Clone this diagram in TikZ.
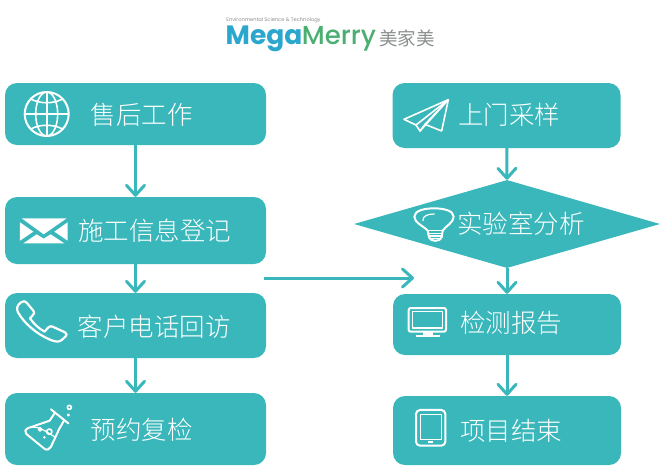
\documentclass[tikz,border=0pt]{standalone}
\usepackage{fontspec}
\setmainfont{Poppins}
\newfontfamily\cjk{Noto Sans CJK SC}[UprightFont=* Light]
\newfontfamily\cjkreg{Noto Sans CJK SC}
\newfontfamily\logomed{Poppins}[UprightFont=* Medium]
\usetikzlibrary{arrows.meta,shapes.geometric}
\definecolor{teal1}{HTML}{39B7BA}
\definecolor{logoblue}{HTML}{2BA7CE}
\definecolor{logogreen}{HTML}{4CAF72}
\definecolor{logogray}{HTML}{8A8F8F}
\tikzset{
  flowbox/.style={fill=teal1,rounded corners=12pt,minimum width=#1,inner sep=0pt,anchor=center},
  label cn/.style={text=white,inner sep=0pt,font=\cjk\fontsize{25.5}{30}\selectfont},
  flowarrow/.style={draw=teal1,line width=3pt,-{Straight Barb[length=10pt,width=18pt,line width=3pt,round]}},
  iconline/.style={draw=white,line width=1.6pt,line join=round,line cap=round},
  iconfill/.style={fill=white},
}
\begin{document}
\begin{tikzpicture}[x=1pt,y=-1pt]
\useasboundingbox (0,0) rectangle (660,466);
% logo
\node[inner sep=0pt,text=logogray,font=\fontsize{5.1}{7}\selectfont] (tag) at (273.5,20) {Environmental Science \& Technology};
\node[inner sep=0pt,text=logoblue,font=\bfseries\fontsize{26.5}{30}\selectfont] (mega) at (264,39) {Mega};
\node[inner sep=0pt,text=logogreen,font=\logomed\fontsize{26}{30}\selectfont] (merry) at (339,39) {Merry};
\node[inner sep=0pt,text=logogray,font=\cjkreg\fontsize{18.5}{22}\selectfont] (brand) at (407,38) {美家美};
% boxes
\node[flowbox=261pt,minimum height=62pt] (a) at (135.5,114) {};
\node[flowbox=261pt,minimum height=67pt] (b) at (135.5,230.5) {};
\node[flowbox=261pt,minimum height=65pt] (c) at (135.5,325.5) {};
\node[flowbox=261pt,minimum height=72pt] (d) at (135.5,429) {};
\node[flowbox=228pt,minimum height=65pt] (e) at (506.5,115.5) {};
\node[diamond,fill=teal1,inner sep=0pt,minimum width=306pt,minimum height=88pt] (lab) at (507,224) {};
\node[flowbox=228pt,minimum height=61pt] (f) at (507,324.5) {};
\node[flowbox=228pt,minimum height=69pt] (g) at (507,430.5) {};
% texts
\node[label cn] (ta) at (141.5,115) {售后工作};
\node[label cn] (tb) at (154.5,231) {施工信息登记};
\node[label cn] (tc) at (154,327) {客户电话回访};
\node[label cn] (td) at (141.5,430) {预约复检};
\node[label cn] (te) at (509,115) {上门采样};
\node[label cn] (tl) at (521,224) {实验室分析};
\node[label cn] (tf) at (511,323) {检测报告};
\node[label cn] (tg) at (511,431) {项目结束};
% connectors
\coordinate (hs) at (264,278);
\coordinate (he) at (414,278);
\draw[flowarrow] (a) -- (b);
\draw[flowarrow] (b) -- (c);
\draw[flowarrow] (c) -- (d);
\draw[flowarrow] (e) -- (lab.north);
\draw[flowarrow] (lab.south) -- (f);
\draw[flowarrow] (f) -- (g);
\draw[flowarrow] (hs) -- (he);
% globe
\begin{scope}[shift={(46.7,114)}]
  \draw[iconline,line width=2pt] (0,0) circle (22);
  \draw[iconline] (0,-22) -- (0,22) (-22,0) -- (22,0);
  \draw[iconline] (0,0) ellipse (11 and 22);
  \draw[iconline] (-16,-15) .. controls (-6,-10) and (6,-10) .. (16,-15);
  \draw[iconline] (-16,15) .. controls (-6,10) and (6,10) .. (16,15);
\end{scope}
% envelope
\begin{scope}[shift={(0,75)},x=0.3333pt,y=-0.3333pt]
  \fill[iconfill] (65,430) -- (200,430) -- (131,478) -- cycle;
  \fill[iconfill] (60,442) -- (100,470) -- (60,497) -- cycle;
  \fill[iconfill] (203,442) -- (163,470) -- (203,497) -- cycle;
  \fill[iconfill] (70,505) -- (110,478) -- (131,491) -- (152,478) -- (193,505) -- cycle;
\end{scope}
% phone
\begin{scope}[shift={(10,295)},x=0.3333pt,y=-0.3333pt]
  \draw[iconline,line width=2.2pt] (33,22) .. controls (40,17) and (46,18) .. (50,23)
    -- (70,47) .. controls (74,52) and (73,57) .. (68,61) -- (60,70)
    .. controls (70,85) and (85,100) .. (104,110) -- (114,98)
    .. controls (118,93) and (124,93) .. (128,95) -- (165,112)
    .. controls (171,116) and (171,120) .. (167,124) -- (154,136)
    .. controls (146,142) and (134,140) .. (120,134)
    .. controls (78,116) and (42,84) .. (24,52)
    .. controls (18,40) and (22,30) .. (33,22) -- cycle;
\end{scope}
% flask
\begin{scope}[shift={(15,400)},x=0.3333pt,y=-0.3333pt]
  \draw[iconline,line width=2pt] (108,28) -- (160,70);
  \draw[iconline,line width=2pt] (120,38) -- (104,62) -- (40,84) .. controls (30,88) and (28,96) .. (34,102)
     -- (88,146) .. controls (96,152) and (104,148) .. (108,140) -- (132,88) -- (148,60);
  \draw[iconline,line width=1.2pt] (50,82) .. controls (75,78) and (100,100) .. (122,112);
  \draw[iconline] (163,22) circle (6);
  \draw[iconline] (160,45) circle (2.5);
  \draw[iconline] (75,88) circle (5);
  \draw[iconline] (103,95) circle (8);
  \fill[iconfill] (88,112) circle (4);
\end{scope}
% plane
\begin{scope}[shift={(400,95)},x=0.3333pt,y=-0.3333pt]
  \draw[iconline] (12,73) -- (145,14) -- (125,108) -- (75,88) -- (60,108) -- (48,90) -- cycle;
  \draw[iconline] (145,14) -- (48,90);
  \draw[iconline] (145,14) -- (60,108);
  \draw[iconline] (145,14) -- (75,88);
\end{scope}
% bulb
\begin{scope}[shift={(405,200)},x=0.3333pt,y=-0.3333pt]
  \draw[iconline,line width=2pt] (68,92) .. controls (55,78) and (28,68) .. (28,50)
    .. controls (28,32) and (58,25) .. (87,25)
    .. controls (116,25) and (146,32) .. (146,50)
    .. controls (146,68) and (122,78) .. (113,92)
    -- (110,112) .. controls (106,126) and (76,126) .. (72,112) -- cycle;
  \draw[iconline,line width=1.2pt] (54,62) .. controls (52,48) and (68,42) .. (88,42);
  \draw[iconline,line width=1.2pt] (68,92) -- (113,92) (70,100) -- (111,100) (72,108) -- (109,108) (76,116) -- (105,116);
\end{scope}
% monitor
\begin{scope}[shift={(380,270)},x=0.3333pt,y=-0.3333pt]
  \draw[iconline,line width=2pt,rounded corners=2pt] (86,114) rectangle (198,185);
  \draw[iconline,line width=1.2pt] (98,125) rectangle (187,174);
  \fill[iconfill] (128,185) rectangle (160,194);
  \fill[iconfill] (108,194) rectangle (180,200);
\end{scope}
% tablet
\begin{scope}[shift={(380,270)},x=0.3333pt,y=-0.3333pt]
  \draw[iconline,line width=2pt,rounded corners=4pt] (108,420) rectangle (196,527);
  \draw[iconline,line width=1.2pt] (121,434) rectangle (184,509);
  \fill[iconfill] (144,514) rectangle (160,520);
\end{scope}
\end{tikzpicture}
\end{document}
